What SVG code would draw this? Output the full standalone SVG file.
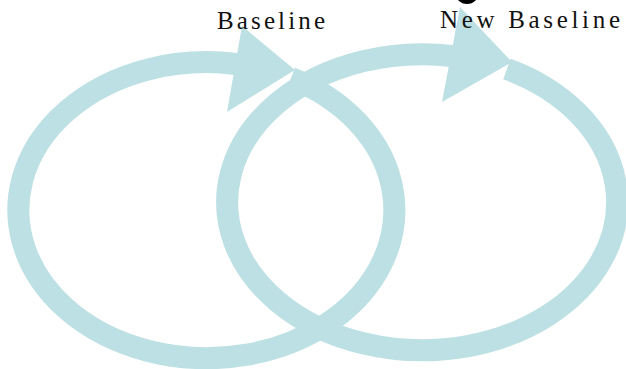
<svg xmlns="http://www.w3.org/2000/svg" width="626" height="369" viewBox="0 0 626 369">
  <style>
    .loop { fill: none; stroke: #bce0e3; stroke-width: 22; stroke-linejoin: round; }
    .head { fill: #bce0e3; stroke: none; }
    .label { font-family: "Liberation Serif", "Times New Roman", serif; font-size: 25px; fill: #111; }
  </style>
  <rect width="626" height="369" fill="#ffffff"/>
  <g id="connectors">
    <path class="loop" d="M 291 78 A 188 148 0 1 1 236 64"/>
    <polygon class="head" points="242,26 227,112 295,70"/>
    <path class="loop" d="M 507 69 A 195 148 0 1 1 452 56"/>
    <polygon class="head" points="460,7 442,102 512,62"/>
  </g>
  <ellipse cx="467" cy="-8" rx="12" ry="12" fill="#000"/>
  <g id="baseline">
    <text class="label" x="217" y="29" textLength="108" lengthAdjust="spacing">Baseline</text>
  </g>
  <g id="new-baseline">
    <text class="label" x="440" y="28" textLength="180" lengthAdjust="spacing">New Baseline</text>
  </g>
</svg>
